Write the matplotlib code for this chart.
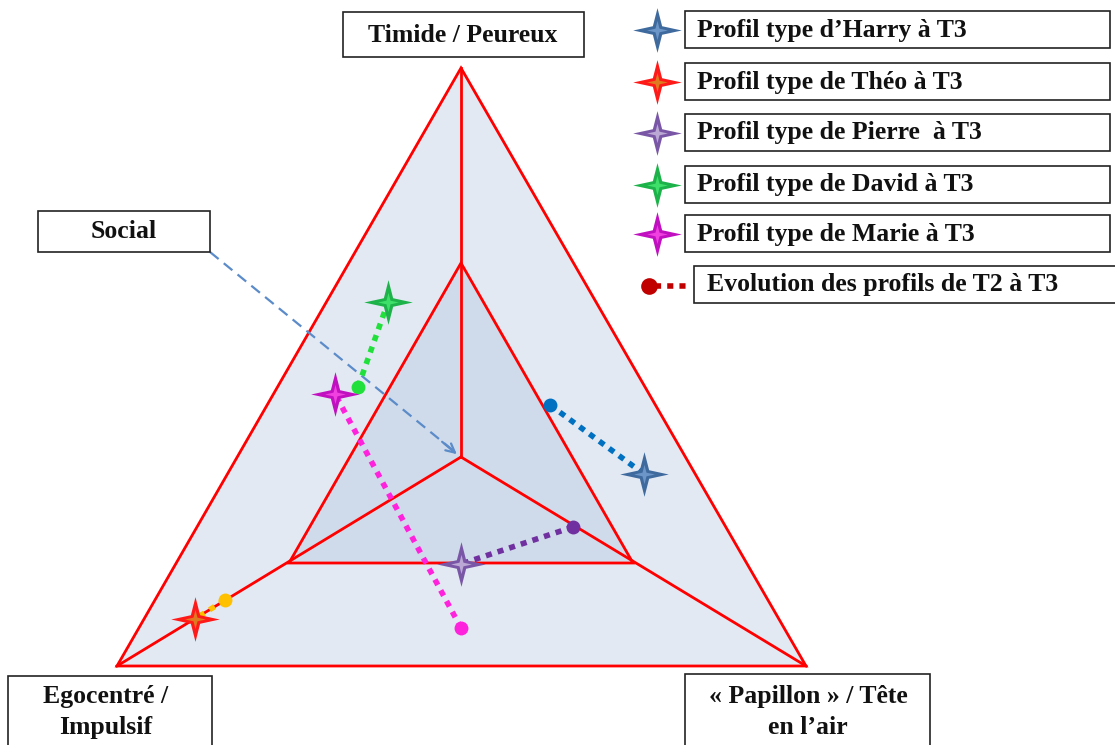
import numpy as np
import matplotlib.pyplot as plt
from matplotlib.path import Path
from matplotlib.patches import Polygon, Rectangle

plt.rcParams['font.family'] = ['Liberation Serif', 'DejaVu Serif']

# diagram geometry (pixel space of the original picture)
outer = [(461, 68), (117, 666), (806, 666)]
inner = [(461, 263), (289, 563), (633, 563)]
centre = (461, 457)

# profiles: T3 position (star) and T2 position (dot)
names = ["Harry", "Théo", "Pierre", "David", "Marie"]
t3_x = [644, 195, 461, 388, 335]
t3_y = [474, 619, 564, 302, 394]
t2_x = [550, 225, 573, 358, 461]
t2_y = [405, 600, 527, 387, 628]
star_col = ["#3E6A9E", "#FF1A1A", "#7A57A6", "#1DB34A", "#C010C0"]
star_mid = ["#6C95C8", "#E07A20", "#BBA8D4", "#3FE06A", "#F040E0"]
dot_col = ["#0070C0", "#FFC000", "#7030A0", "#22E03C", "#FF22DD"]

legend_labels = ["Profil type d\u2019Harry à T3", "Profil type de Théo à T3",
                 "Profil type de Pierre  à T3", "Profil type de David à T3",
                 "Profil type de Marie à T3"]
legend_y = [30, 82, 133, 185, 234]

# four-pointed star marker
ang = np.arange(8) * np.pi / 4
rad = np.where(np.arange(8) % 2 == 0, 1.0, 0.27)
sx = rad * np.cos(ang)
sy = rad * np.sin(ang) * 0.92
star = Path(np.column_stack([np.append(sx, sx[0]), np.append(sy, sy[0])]), closed=True)

fig = plt.figure(figsize=(11.15, 7.45), dpi=100)
ax = fig.add_axes([0, 0, 1, 1])
ax.set_xlim(0, 1115)
ax.set_ylim(745, 0)
ax.axis('off')

ax.add_patch(Polygon(outer, closed=True, fc="#E3E9F3", ec="#FF0000", lw=2, zorder=1))
ax.add_patch(Polygon(inner, closed=True, fc="#CFDBEA", ec="#FF0000", lw=2, zorder=2))
for (ox, oy) in outer:
    ax.plot([centre[0], ox], [centre[1], oy], color="#FF0000", lw=2, zorder=2)

# "Social" arrow
ax.plot([210, 455], [252, 452], color="#5B8BC9", lw=1.6, ls=(0, (5, 3)), zorder=3)
ax.annotate("", xy=(459, 456), xytext=(440, 440),
            arrowprops=dict(arrowstyle="->", color="#5B8BC9", lw=1.6, mutation_scale=16), zorder=3)

# evolution lines and markers
for i in range(len(names)):
    ax.plot([t2_x[i], t3_x[i]], [t2_y[i], t3_y[i]], color=dot_col[i], lw=4,
            ls=(0, (1.1, 1.1)), zorder=4)
    ax.plot(t2_x[i], t2_y[i], 'o', color=dot_col[i], ms=10, mec='none', zorder=5)
    ax.plot(t3_x[i], t3_y[i], marker=star, color=star_col[i], ms=35, mec='none', zorder=6)
    ax.plot(t3_x[i], t3_y[i], marker=star, color=star_mid[i], ms=15, mec='none', zorder=7)

def box(x0, y0, x1, y1):
    ax.add_patch(Rectangle((x0, y0), x1 - x0, y1 - y0, fc="white", ec="#222222",
                           lw=1.2, zorder=8))

tkw = dict(fontsize=18.5, fontweight='bold', color="#111111", zorder=9)

box(343, 12, 584, 57)
ax.text(463, 35, "Timide / Peureux", ha='center', va='center', **tkw)
box(38, 211, 210, 252)
ax.text(124, 232, "Social", ha='center', va='center', **tkw)
box(8, 676, 212, 750)
ax.text(106, 712, "Egocentré /\nImpulsif", ha='center', va='center', linespacing=1.4, **tkw)
box(685, 674, 930, 750)
ax.text(808, 712, "« Papillon » / Tête\nen l\u2019air", ha='center', va='center',
        linespacing=1.4, **tkw)

# legend
for i in range(len(names)):
    box(685, legend_y[i] - 19, 1110, legend_y[i] + 18)
    ax.text(697, legend_y[i], legend_labels[i], ha='left', va='center', **tkw)
    ax.plot(657, legend_y[i], marker=star, color=star_col[i], ms=35, mec='none', zorder=6)
    ax.plot(657, legend_y[i], marker=star, color=star_mid[i], ms=15, mec='none', zorder=7)

box(694, 266, 1120, 303)
ax.text(707, 285, "Evolution des profils de T2 à T3", ha='left', va='center', **tkw)
ax.plot([655, 688], [286, 286], color="#C00000", lw=4, ls=(0, (1.1, 1.1)), zorder=4)
ax.plot(649, 286, 'o', color="#C00000", ms=12, mec='none', zorder=5)

fig.savefig("out.png", dpi=100)
